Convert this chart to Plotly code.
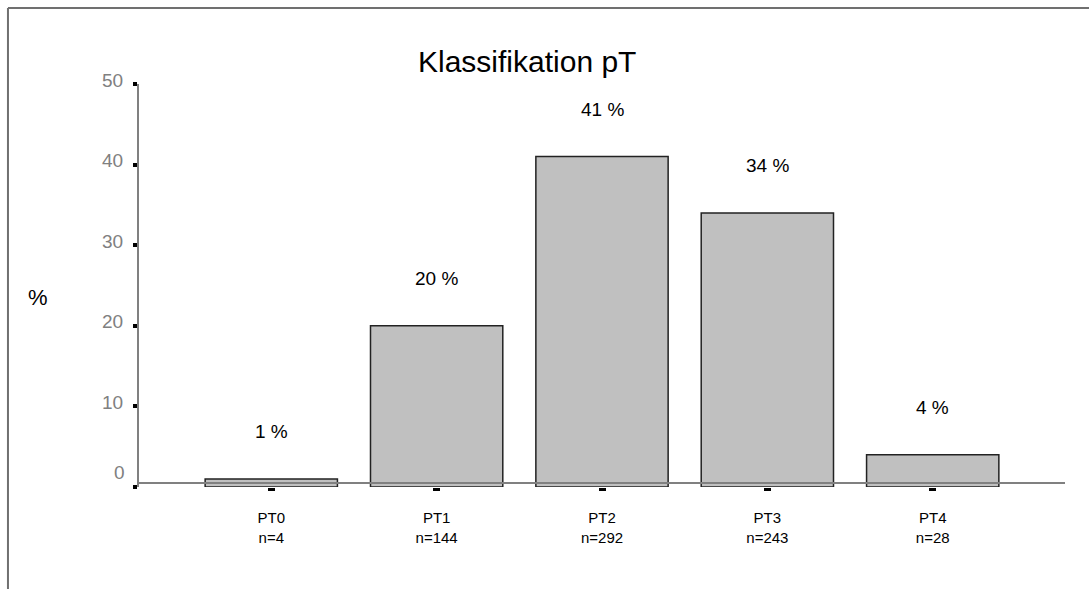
import plotly.graph_objects as go

# Klassifikation pT – share of cases per category
categories = ["PT0", "PT1", "PT2", "PT3", "PT4"]
counts = [4, 144, 292, 243, 28]
percent = [1, 20, 41, 34, 4]
y_ticks = [0, 10, 20, 30, 40, 50]

FONT = "Liberation Sans, Arial, sans-serif"

tick_text = [f"{c}<br>n={n}" for c, n in zip(categories, counts)]

fig = go.Figure()
fig.add_trace(go.Bar(
    x=categories,
    y=percent,
    width=0.8,
    marker=dict(color="#c0c0c0", line=dict(color="#222222", width=1.5)),
    hoverinfo="skip",
))

# percentage labels above bars
for c, p in zip(categories, percent):
    fig.add_annotation(x=c, y=p, text=f"{p} %", showarrow=False,
                       yshift=47, font=dict(family=FONT, size=19, color="black"))

# baseline drawn slightly above zero, over the bars
fig.add_shape(type="line", xref="paper", yref="y", x0=0, x1=1, y0=0.5, y1=0.5,
              line=dict(color="#808080", width=2), layer="above")

# outer frame (left and top edges)
fig.add_shape(type="line", xref="paper", yref="paper",
              x0=-0.1415, x1=-0.1415, y0=-0.3, y1=1.1886,
              line=dict(color="#707070", width=2))
fig.add_shape(type="line", xref="paper", yref="paper",
              x0=-0.1415, x1=1.2, y0=1.1886, y1=1.1886,
              line=dict(color="#707070", width=2))

# title and axis label
fig.add_annotation(xref="paper", yref="paper", x=0.419, y=1.0546,
                   xanchor="center", yanchor="middle",
                   text="Klassifikation pT", showarrow=False,
                   font=dict(family=FONT, size=30, color="black"))
fig.add_annotation(xref="paper", yref="paper", x=-0.109, y=0.471,
                   xanchor="center", yanchor="middle",
                   text="%", showarrow=False,
                   font=dict(family=FONT, size=22, color="black"))
# zero label sits higher than its tick
fig.add_annotation(xref="paper", yref="y", x=0, y=0, xanchor="right",
                   yanchor="middle",
                   xshift=-12, yshift=15, text="0", showarrow=False,
                   font=dict(family=FONT, size=19, color="#808080"))

fig.update_layout(
    width=1089, height=589,
    margin=dict(l=139, r=24, t=84, b=102),
    paper_bgcolor="white", plot_bgcolor="white",
    showlegend=False,
    bargap=0.2,
    font=dict(family=FONT),
)
fig.update_xaxes(
    range=[-0.8, 4.8],
    tickvals=categories, ticktext=tick_text,
    showline=False, showgrid=False, zeroline=False,
    ticks="outside", ticklen=3, tickwidth=7, tickcolor="black",
    tickfont=dict(family=FONT, size=15, color="black"),
    ticklabelstandoff=14,
)
fig.update_yaxes(
    range=[0, 50],
    tickvals=y_ticks, ticktext=[("" if v == 0 else str(v)) for v in y_ticks],
    showline=True, linecolor="#808080", linewidth=2,
    showgrid=False, zeroline=False,
    ticks="outside", ticklen=4, tickwidth=4, tickcolor="black",
    tickfont=dict(family=FONT, size=19, color="#808080"),
    ticklabelstandoff=6, ticklabelshift=-4,
)

fig.write_html("out.html")
